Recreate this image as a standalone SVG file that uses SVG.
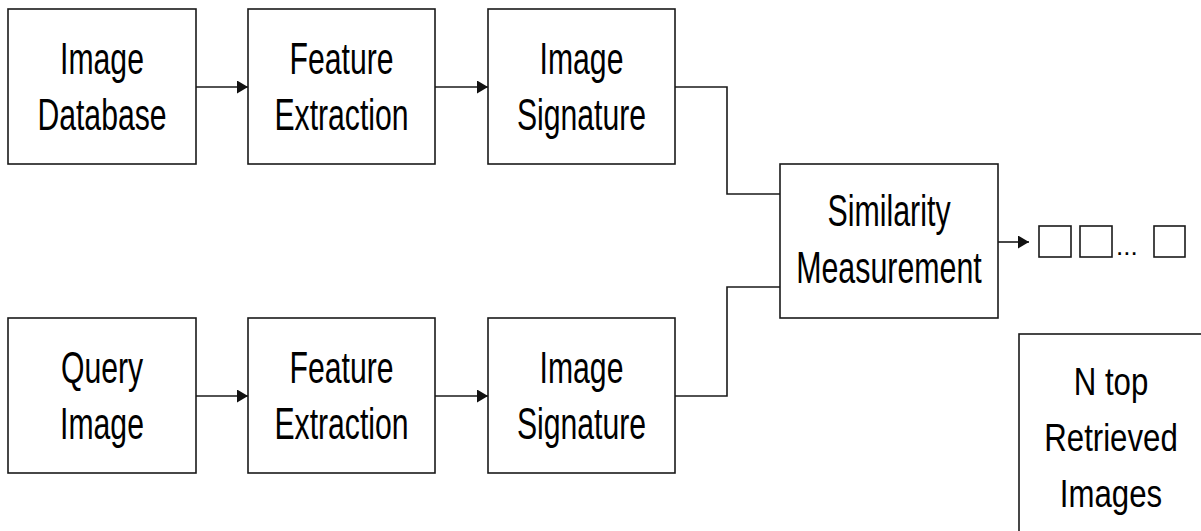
<svg xmlns="http://www.w3.org/2000/svg" width="1201" height="531" viewBox="0 0 1201 531">
<style>
.box{fill:#fff;stroke:#1a1a1a;stroke-width:1.6}
.lbl{font-family:"Liberation Sans",Arial,sans-serif;font-size:44px;fill:#000;text-anchor:middle}
.lbl2{font-family:"Liberation Sans",Arial,sans-serif;font-size:39px;fill:#000;text-anchor:middle}
.con{fill:none;stroke:#1a1a1a;stroke-width:1.6}
</style>
<defs>
<marker id="ah" markerUnits="userSpaceOnUse" markerWidth="12" markerHeight="13" refX="11" refY="6.5" orient="auto">
<path d="M0,0 L11,6.5 L0,13 z" fill="#111"/>
</marker>
</defs>
<rect width="1201" height="531" fill="#fff"/>
<g id="connectors">
<line class="con" x1="196" y1="87" x2="248" y2="87" marker-end="url(#ah)"/>
<line class="con" x1="435" y1="87" x2="488" y2="87" marker-end="url(#ah)"/>
<line class="con" x1="196" y1="396" x2="248" y2="396" marker-end="url(#ah)"/>
<line class="con" x1="435" y1="396" x2="488" y2="396" marker-end="url(#ah)"/>
<polyline class="con" points="675,87 727,87 727,194 780,194"/>
<polyline class="con" points="675,396 727,396 727,287 780,287"/>
<line class="con" x1="998" y1="242" x2="1029" y2="242" marker-end="url(#ah)"/>
</g>
<g id="image-database">
<rect class="box" x="8" y="9" width="188" height="155"/>
<text class="lbl" transform="translate(102 0) scale(0.686 1)"><tspan x="0" y="74">Image</tspan><tspan x="0" y="130">Database</tspan></text>
</g>
<g id="feature-extraction-1">
<rect class="box" x="248" y="9" width="187" height="155"/>
<text class="lbl" transform="translate(341.5 0) scale(0.686 1)"><tspan x="0" y="74">Feature</tspan><tspan x="0" y="130">Extraction</tspan></text>
</g>
<g id="image-signature-1">
<rect class="box" x="488" y="9" width="187" height="155"/>
<text class="lbl" transform="translate(581.5 0) scale(0.686 1)"><tspan x="0" y="74">Image</tspan><tspan x="0" y="130">Signature</tspan></text>
</g>
<g id="query-image">
<rect class="box" x="8" y="318" width="188" height="155"/>
<text class="lbl" transform="translate(102 0) scale(0.686 1)"><tspan x="0" y="383">Query</tspan><tspan x="0" y="439">Image</tspan></text>
</g>
<g id="feature-extraction-2">
<rect class="box" x="248" y="318" width="187" height="155"/>
<text class="lbl" transform="translate(341.5 0) scale(0.686 1)"><tspan x="0" y="383">Feature</tspan><tspan x="0" y="439">Extraction</tspan></text>
</g>
<g id="image-signature-2">
<rect class="box" x="488" y="318" width="187" height="155"/>
<text class="lbl" transform="translate(581.5 0) scale(0.686 1)"><tspan x="0" y="383">Image</tspan><tspan x="0" y="439">Signature</tspan></text>
</g>
<g id="similarity-measurement">
<rect class="box" x="780" y="164" width="218" height="154"/>
<text class="lbl" transform="translate(889 0) scale(0.69 1)"><tspan x="0" y="226">Similarity</tspan><tspan x="0" y="283">Measurement</tspan></text>
</g>
<g id="result-images">
<rect class="box" x="1039" y="226" width="32" height="31"/>
<rect class="box" x="1080" y="226" width="32" height="31"/>
<text x="1116" y="255" font-family="Liberation Sans, Arial, sans-serif" font-size="26" fill="#000">...</text>
<rect class="box" x="1154" y="226" width="31" height="31"/>
</g>
<g id="n-top-retrieved">
<rect class="box" x="1019" y="334" width="186" height="210"/>
<text class="lbl2" transform="translate(1111 0) scale(0.8 1)"><tspan x="0" y="395">N top</tspan><tspan x="0" y="451">Retrieved</tspan><tspan x="0" y="507">Images</tspan></text>
</g>
</svg>
